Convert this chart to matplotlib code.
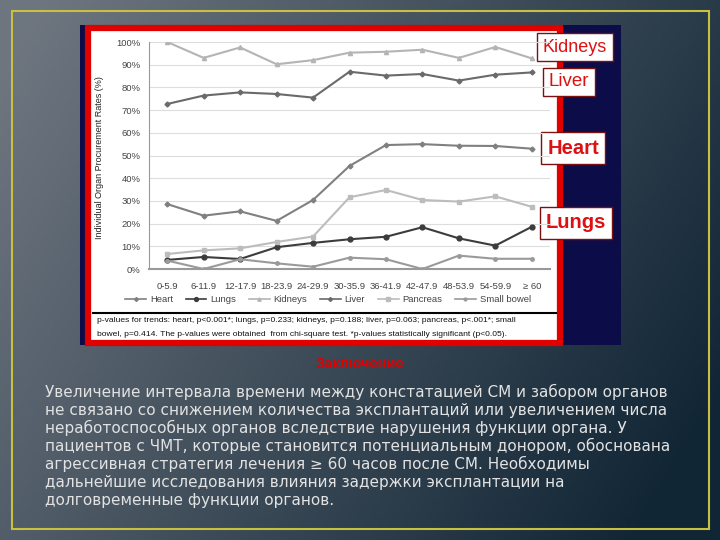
import matplotlib
matplotlib.use("Agg")
import matplotlib.pyplot as plt
import numpy as np
from matplotlib.patches import Rectangle
from matplotlib.lines import Line2D

plt.rcParams['font.family'] = ['Liberation Sans', 'DejaVu Sans']

# data (percent)
categories = ['0-5.9', '6-11.9', '12-17.9', '18-23.9', '24-29.9', '30-35.9',
              '36-41.9', '42-47.9', '48-53.9', '54-59.9', '\u2265 60']
heart = [28.6, 23.5, 25.4, 21.2, 30.4, 45.4, 54.6, 55.0, 54.3, 54.2, 53.0]
lungs = [4.0, 5.3, 4.4, 9.6, 11.5, 13.1, 14.2, 18.4, 13.5, 10.3, 18.6]
kidneys = [100.0, 93.0, 97.6, 90.2, 92.0, 95.3, 95.7, 96.6, 93.0, 97.8, 92.8]
liver = [72.7, 76.4, 77.8, 77.1, 75.5, 86.9, 85.2, 85.9, 83.0, 85.6, 86.6]
pancreas = [6.6, 8.2, 9.1, 11.9, 14.3, 31.6, 34.8, 30.4, 29.7, 32.0, 27.4]
small_bowel = [3.7, 0.0, 4.3, 2.5, 1.0, 5.0, 4.3, 0.0, 5.9, 4.5, 4.5]
yticks = [0, 10, 20, 30, 40, 50, 60, 70, 80, 90, 100]

side_labels = ['Kidneys', 'Liver', 'Heart', 'Lungs']

footnote = ["p-values for trends: heart, p<0.001*; lungs, p=0.233; kidneys, p=0.188; liver, p=0.063; pancreas, p<.001*; small",
            "bowel, p=0.414. The p-values were obtained  from chi-square test. *p-values statistically significant (p<0.05)."]

title_ru = "Заключение"
body_ru = ["Увеличение интервала времени между констатацией СМ и забором органов",
           "не связано со снижением количества эксплантаций или увеличением числа",
           "неработоспособных органов вследствие нарушения функции органа. У",
           "пациентов с ЧМТ, которые становится потенциальным донором, обоснована",
           "агрессивная стратегия лечения \u2265 60 часов после СМ. Необходимы",
           "дальнейшие исследования влияния задержки эксплантации на",
           "долговременные функции органов."]

W, H = 720, 540
fig = plt.figure(figsize=(7.2, 5.4), dpi=100)

# slide background gradient
bg = fig.add_axes([0, 0, 1, 1])
bg.set_xlim(0, W)
bg.set_ylim(H, 0)
bg.axis('off')
xx, yy = np.meshgrid(np.linspace(0, 1, 200), np.linspace(0, 1, 150))
t = np.clip(0.8 * xx + 0.35 * yy - 0.05, 0, 1)
c0 = np.array([0.43, 0.46, 0.50])
c1 = np.array([0.07, 0.15, 0.21])
img = c0[None, None, :] * (1 - t[..., None]) + c1[None, None, :] * t[..., None]
bg.imshow(img, extent=[0, W, H, 0], aspect='auto', zorder=0)

# yellow slide frame
bg.add_patch(Rectangle((12, 11), 697, 518, fill=False, edgecolor='#c8c040', lw=1.5, zorder=1))
# navy panel behind the picture
bg.add_patch(Rectangle((80, 25), 541, 320, facecolor='#0c0c48', edgecolor='none', zorder=1))
# white picture with red frame
bg.add_patch(Rectangle((88, 28), 472, 315, facecolor='white', edgecolor='#e00000', lw=4.5, zorder=2))

# separator line and footnote
bg.plot([93, 556], [313, 313], color='black', lw=1.5, zorder=3)
bg.text(97, 321, footnote[0], fontsize=6.1, color='#111111', va='center', zorder=3)
bg.text(97, 334, footnote[1], fontsize=6.1, color='#111111', va='center', zorder=3)

# y axis label
bg.text(100, 158, 'Individual Organ Procurement Rates (%)', fontsize=6.5, rotation=90,
        ha='center', va='center', color='#222222', zorder=3)

# chart axes
ax = fig.add_axes([149 / W, 1 - 269 / H, (550 - 149) / W, (269 - 42) / H])
ax.patch.set_alpha(0)
x = np.arange(len(categories))
series = [
    ('Heart', heart, '#808080', 'D', 2.5),
    ('Lungs', lungs, '#3c3c3c', 'o', 3.5),
    ('Kidneys', kidneys, '#b4b4b4', '^', 3),
    ('Liver', liver, '#6a6a6a', 'D', 2.5),
    ('Pancreas', pancreas, '#bcbcbc', 's', 3.5),
    ('Small bowel', small_bowel, '#9a9a9a', 'o', 2.5),
]
for name, vals, col, mk, ms in series:
    ax.plot(x, vals, color=col, lw=1.5, marker=mk, markersize=ms, label=name, zorder=3)

ax.set_xlim(-0.5, len(categories) - 0.5)
ax.set_ylim(0, 100)
ax.set_yticks(yticks)
ax.set_yticklabels([f'{v}%' for v in yticks])
ax.set_xticks(x)
ax.set_xticklabels(categories)
ax.tick_params(axis='both', labelsize=6.8, labelcolor='#444444', length=0, pad=6)
ax.tick_params(axis='x', pad=9)
ax.grid(True, axis='y', color='#dddddd', lw=0.8, zorder=0)
for s in ['top', 'right']:
    ax.spines[s].set_visible(False)
ax.spines['left'].set_color('#999999')
ax.spines['bottom'].set_color('#999999')
ax.spines['bottom'].set_linewidth(1.5)

handles = [Line2D([0], [0], color=c, lw=1.2, marker=m, markersize=ms * 0.8)
           for _, _, c, m, ms in series]
fig.legend(handles, [s[0] for s in series], loc='center', bbox_to_anchor=(328 / W, 1 - 300 / H),
           ncol=6, frameon=False, fontsize=6.8, handlelength=2.2, handletextpad=0.4,
           columnspacing=1.35, labelcolor='#444444')

# organ labels on the right
label_pos = [(575, 47, 13), (569, 82, 13.5), (573, 148, 14.5), (576, 223, 14.5)]
for lab, (lx, ly, fs) in zip(side_labels, label_pos):
    bg.text(lx, ly, lab, fontsize=fs, color='#dd1111', ha='center', va='center', zorder=5,
            fontweight='bold' if lab in ('Heart', 'Lungs') else 'normal',
            bbox=dict(boxstyle='square,pad=0.3', facecolor='white', edgecolor='#7a1010', lw=1))

# Russian conclusion text
bg.text(360, 364, title_ru, fontsize=10.5, color='#e00000', ha='center', va='center',
        fontweight='bold', zorder=3)
for i, line in enumerate(body_ru):
    bg.text(45, 392 + 18 * i, line, fontsize=11, color='#e2e2e2', va='center', zorder=3,
            family=['Liberation Sans Narrow', 'DejaVu Sans'])

fig.savefig('out.png', dpi=100)
